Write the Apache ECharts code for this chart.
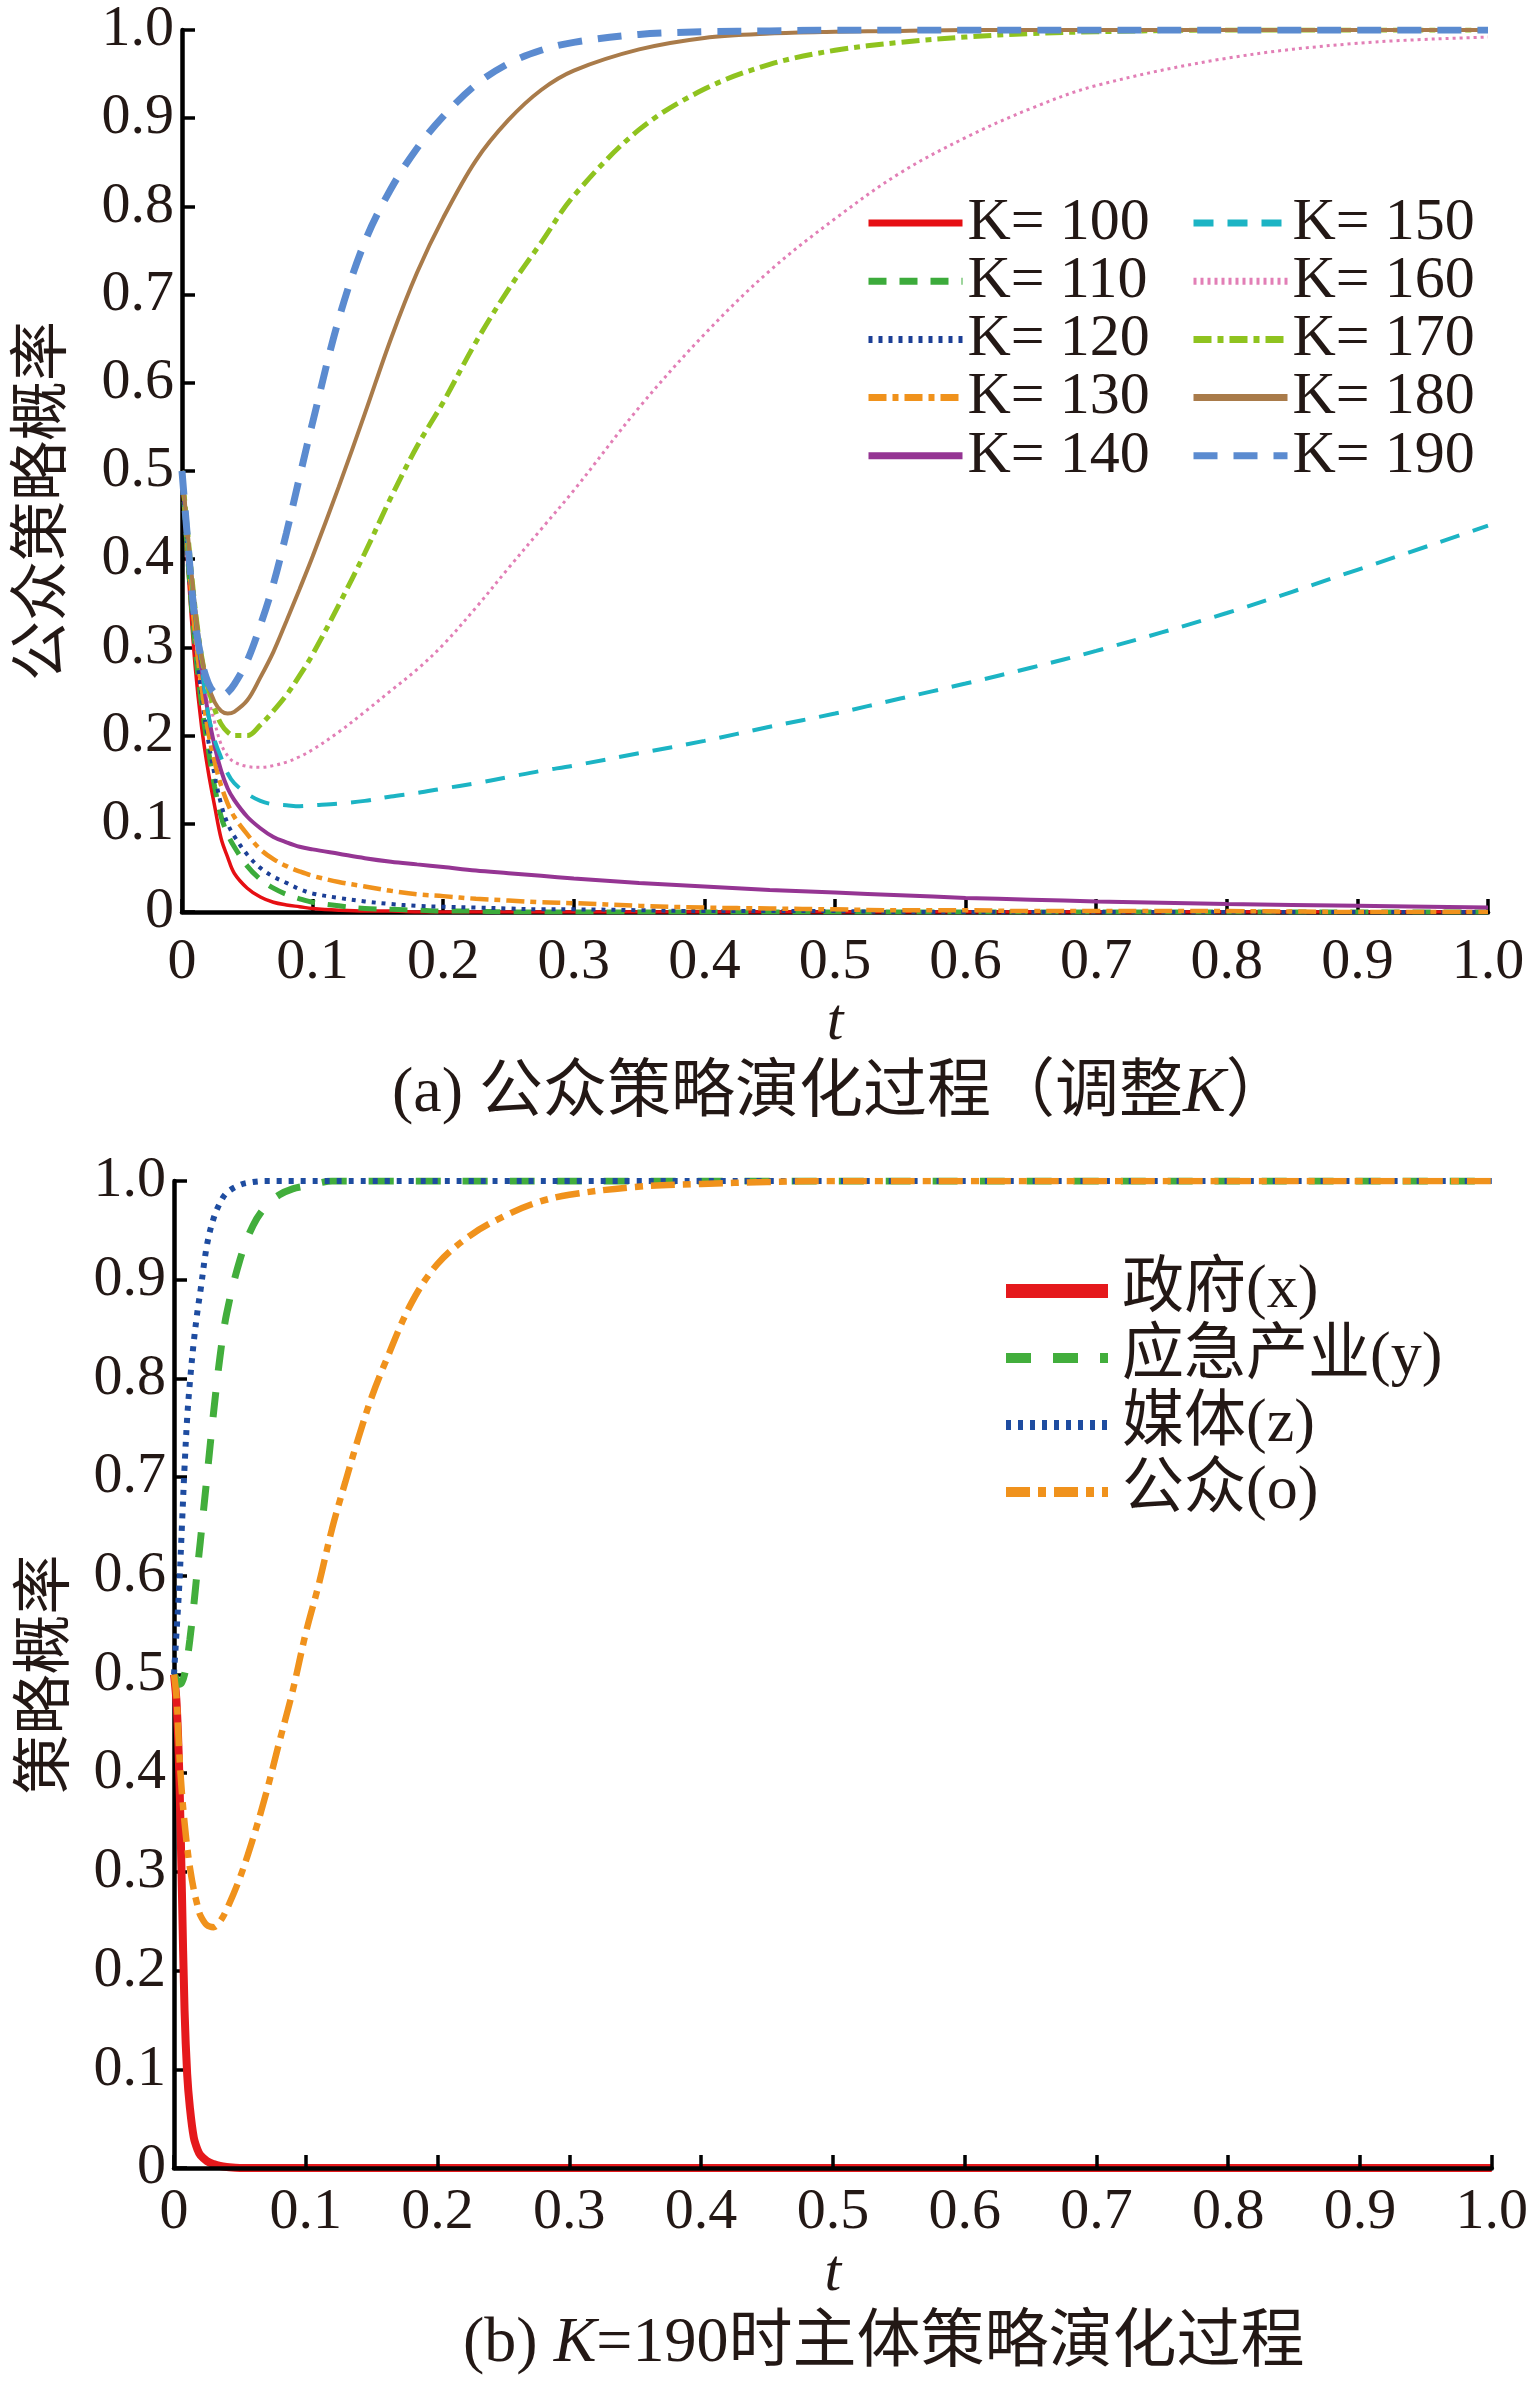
<!DOCTYPE html>
<html>
<head>
<meta charset="utf-8">
<script src="https://cdn.jsdelivr.net/npm/echarts@6/dist/echarts.min.js"></script>
<style>
  html, body { margin: 0; padding: 0; background: #fff; }
  #chart { width: 1531px; height: 2381px; }
</style>
</head>
<body>
<div id="chart"></div>
<script>
// ---- panel (a): public strategy under different K ----
const tTop = [0, 0.005, 0.01, 0.015, 0.02, 0.025, 0.03, 0.035, 0.04, 0.05, 0.06, 0.07, 0.08, 0.09, 0.1,
  0.12, 0.14, 0.16, 0.18, 0.2, 0.225, 0.25, 0.275, 0.3, 0.35, 0.4, 0.45, 0.5, 0.55, 0.6, 0.65, 0.7, 0.8, 0.9, 1.0];

const k100 = [0.5, 0.38, 0.28, 0.21, 0.16, 0.12, 0.083, 0.062, 0.044, 0.027, 0.017, 0.011, 0.008, 0.006, 0.004,
  0.002, 0.001, 0.001, 0, 0, 0, 0, 0, 0, 0, 0, 0, 0, 0, 0, 0, 0, 0, 0, 0];
const k110 = [0.5, 0.39, 0.3, 0.235, 0.185, 0.142, 0.108, 0.088, 0.074, 0.052, 0.037, 0.027, 0.02, 0.015, 0.011,
  0.007, 0.004, 0.003, 0.002, 0.001, 0.001, 0, 0, 0, 0, 0, 0, 0, 0, 0, 0, 0, 0, 0, 0];
const k120 = [0.5, 0.39, 0.31, 0.245, 0.195, 0.155, 0.122, 0.1, 0.086, 0.065, 0.05, 0.04, 0.033, 0.026, 0.021,
  0.016, 0.012, 0.009, 0.007, 0.006, 0.005, 0.004, 0.003, 0.003, 0.002, 0.001, 0.001, 0.001, 0, 0, 0, 0, 0, 0, 0];
const k130 = [0.5, 0.4, 0.315, 0.255, 0.205, 0.17, 0.143, 0.123, 0.108, 0.088, 0.071, 0.06, 0.052, 0.046, 0.041,
  0.034, 0.029, 0.024, 0.02, 0.018, 0.015, 0.013, 0.011, 0.01, 0.007, 0.005, 0.004, 0.003, 0.002, 0.002, 0.001, 0.001, 0.001, 0, 0];
const k140 = [0.5, 0.41, 0.335, 0.275, 0.225, 0.188, 0.16, 0.14, 0.127, 0.108, 0.095, 0.085, 0.079, 0.074, 0.071,
  0.066, 0.061, 0.057, 0.054, 0.051, 0.047, 0.044, 0.041, 0.038, 0.033, 0.029, 0.025, 0.022, 0.019, 0.016, 0.014, 0.012, 0.009, 0.007, 0.005];
const k150 = [0.5, 0.41, 0.34, 0.28, 0.225, 0.195, 0.175, 0.157, 0.146, 0.134, 0.126, 0.122, 0.121, 0.12, 0.121,
  0.123, 0.126, 0.131, 0.135, 0.14, 0.146, 0.153, 0.16, 0.166, 0.18, 0.194, 0.21, 0.225, 0.242, 0.259, 0.277, 0.296, 0.339, 0.388, 0.438];
const k160 = [0.5, 0.42, 0.35, 0.29, 0.245, 0.215, 0.19, 0.177, 0.17, 0.165, 0.164, 0.166, 0.17, 0.176, 0.184,
  0.204, 0.227, 0.251, 0.275, 0.303, 0.345, 0.39, 0.434, 0.478, 0.572, 0.655, 0.727, 0.786, 0.838, 0.878, 0.911, 0.937, 0.968, 0.985, 0.992];
const k170 = [0.5, 0.42, 0.345, 0.29, 0.255, 0.23, 0.213, 0.204, 0.2, 0.2, 0.212, 0.228, 0.246, 0.268, 0.292,
  0.348, 0.407, 0.47, 0.528, 0.578, 0.646, 0.706, 0.759, 0.812, 0.887, 0.933, 0.961, 0.977, 0.986, 0.992, 0.996, 0.998, 1, 1, 1];
const k180 = [0.5, 0.42, 0.345, 0.29, 0.258, 0.238, 0.228, 0.225, 0.227, 0.24, 0.266, 0.295, 0.33, 0.366, 0.403,
  0.482, 0.565, 0.65, 0.725, 0.787, 0.852, 0.898, 0.932, 0.954, 0.978, 0.991, 0.996, 0.998, 0.999, 1, 1, 1, 1, 1, 1];
const k190 = [0.5, 0.41, 0.33, 0.285, 0.26, 0.248, 0.245, 0.249, 0.258, 0.285, 0.325, 0.372, 0.43, 0.493, 0.555,
  0.672, 0.76, 0.82, 0.866, 0.902, 0.938, 0.962, 0.977, 0.986, 0.995, 0.998, 0.999, 1, 1, 1, 1, 1, 1, 1, 1];

const topNames = ['K= 100', 'K= 110', 'K= 120', 'K= 130', 'K= 140', 'K= 150', 'K= 160', 'K= 170', 'K= 180', 'K= 190'];

// ---- panel (b): all players at K=190 ----
const tBot = [0, 0.002, 0.004, 0.006, 0.008, 0.01, 0.012, 0.015, 0.018, 0.02, 0.025, 0.03, 0.035, 0.04,
  0.05, 0.06, 0.07, 0.08, 0.09, 0.1, 0.11, 0.12, 0.13, 0.14, 0.15, 0.16, 0.18, 0.2, 0.225, 0.25, 0.275, 0.3,
  0.35, 0.4, 0.45, 0.5, 0.6, 0.7, 0.8, 0.9, 1.0];

const govX = [0.5, 0.47, 0.4, 0.28, 0.16, 0.095, 0.062, 0.031, 0.018, 0.013, 0.007, 0.004, 0.002, 0.001,
  0, 0, 0, 0, 0, 0, 0, 0, 0, 0, 0, 0, 0, 0, 0, 0, 0, 0, 0, 0, 0, 0, 0, 0, 0, 0, 0];
const indY = [0.5, 0.495, 0.49, 0.492, 0.5, 0.515, 0.535, 0.57, 0.61, 0.635, 0.7, 0.765, 0.823, 0.866,
  0.92, 0.955, 0.975, 0.986, 0.992, 0.995, 0.998, 1, 1, 1, 1, 1, 1, 1, 1, 1, 1, 1, 1, 1, 1, 1, 1, 1, 1, 1, 1];
const mediaZ = [0.5, 0.545, 0.59, 0.65, 0.71, 0.76, 0.795, 0.837, 0.87, 0.888, 0.935, 0.962, 0.978, 0.988,
  0.996, 0.999, 1, 1, 1, 1, 1, 1, 1, 1, 1, 1, 1, 1, 1, 1, 1, 1, 1, 1, 1, 1, 1, 1, 1, 1, 1];
const publicO = [0.5, 0.475, 0.42, 0.38, 0.35, 0.325, 0.305, 0.282, 0.265, 0.256, 0.246, 0.244, 0.25, 0.262,
  0.294, 0.334, 0.38, 0.432, 0.483, 0.542, 0.592, 0.648, 0.695, 0.74, 0.781, 0.815, 0.876, 0.916, 0.945, 0.964,
  0.978, 0.986, 0.994, 0.997, 0.999, 1, 1, 1, 1, 1, 1];

const botNames = ['政府(x)', '应急产业(y)', '媒体(z)', '公众(o)'];

const latin = "'Liberation Serif', serif";
const mixed = "'Liberation Serif', 'Noto Sans CJK SC', serif";
const cjk = "'Noto Sans CJK SC', sans-serif";
const ink = '#231815';

function pairs(ts, vs) {
  return ts.map((t, i) => [t, vs[i]]);
}

function tickText(v) {
  return v === 0 ? '0' : v.toFixed(1);
}

const topStyles = [
  { color: '#e60f13', width: 3.5, type: 'solid' },
  { color: '#3cab3b', width: 5, type: [18, 13] },
  { color: '#1c3f96', width: 4, type: [4, 6] },
  { color: '#f0921c', width: 4.5, type: [18, 6, 6, 6] },
  { color: '#953593', width: 4, type: 'solid' },
  { color: '#1cb4c4', width: 4, type: [20, 14] },
  { color: '#e27fb6', width: 3, type: [3, 4] },
  { color: '#8fc31f', width: 5, type: [18, 6, 6, 6] },
  { color: '#a97b4a', width: 4, type: 'solid' },
  { color: '#5b8bd0', width: 7, type: [24, 16] }
];
const topValues = [k100, k110, k120, k130, k140, k150, k160, k170, k180, k190];

const botStyles = [
  { color: '#e5191c', width: 8, type: 'solid' },
  { color: '#42ae3c', width: 7, type: [25, 22] },
  { color: '#1e4ca0', width: 6, type: [5, 7] },
  { color: '#f0921c', width: 6.5, type: [24, 8, 8, 8] }
];
const botValues = [govX, indY, mediaZ, publicO];

function makeAxisX(gridIndex, labelMargin, nameGap, z) {
  return {
    type: 'value', gridIndex, min: 0, max: 1, interval: 0.1, z,
    name: 't', nameLocation: 'middle', nameGap,
    nameTextStyle: { fontFamily: latin, fontStyle: 'italic', fontSize: 60, color: ink },
    axisLine: { lineStyle: { color: '#000', width: 4.5 } },
    axisTick: { inside: true, length: 13, lineStyle: { color: '#000', width: 3.5 } },
    axisLabel: { formatter: tickText, fontFamily: latin, fontSize: 58, color: ink, margin: labelMargin },
    splitLine: { show: false }
  };
}

function makeAxisY(gridIndex, name, nameGap, namePad) {
  return {
    type: 'value', gridIndex, min: 0, max: 1, interval: 0.1,
    name, nameLocation: 'middle', nameGap, nameRotate: 90,
    nameTextStyle: { fontFamily: cjk, fontSize: 60, color: ink, padding: namePad },
    axisLine: { show: true, lineStyle: { color: '#000', width: 4.5 } },
    axisTick: { show: true, inside: true, length: 13, lineStyle: { color: '#000', width: 3.5 } },
    axisLabel: { formatter: tickText, fontFamily: latin, fontSize: 58, color: ink, margin: 8 },
    splitLine: { show: false }
  };
}

const series = [];
topNames.forEach((name, i) => {
  series.push({
    name, type: 'line', xAxisIndex: 0, yAxisIndex: 0,
    data: pairs(tTop, topValues[i]),
    showSymbol: false, symbol: 'none', smooth: 0.35,
    lineStyle: topStyles[i], itemStyle: { color: topStyles[i].color }
  });
});
botNames.forEach((name, i) => {
  series.push({
    name, type: 'line', xAxisIndex: 1, yAxisIndex: 1,
    data: pairs(tBot, botValues[i]),
    showSymbol: false, symbol: 'none', smooth: 0.35,
    lineStyle: botStyles[i], itemStyle: { color: botStyles[i].color }
  });
});

function topLegend(names, left) {
  return {
    orient: 'vertical', left, top: 193, padding: 0, itemGap: -1.8,
    itemWidth: 94, itemHeight: 14, selectedMode: false,
    itemStyle: { opacity: 0 },
    lineStyle: { width: 7 },
    textStyle: { fontFamily: latin, fontSize: 60, lineHeight: 58, color: ink },
    data: names
  };
}

const chart = echarts.init(document.getElementById('chart'), null, { renderer: 'canvas' });

chart.setOption({
  backgroundColor: '#fff',
  animation: false,
  title: [
    {
      text: '(a) 公众策略演化过程（调整{i|K}）',
      left: 392, top: 1062, padding: 0,
      textStyle: {
        fontFamily: mixed, fontSize: 64, fontWeight: 'normal', color: ink,
        rich: { i: { fontFamily: latin, fontStyle: 'italic', fontSize: 64, color: ink } }
      }
    },
    {
      text: '(b) {i|K}=190时主体策略演化过程',
      left: 463, top: 2312, padding: 0,
      textStyle: {
        fontFamily: mixed, fontSize: 64, fontWeight: 'normal', color: ink,
        rich: { i: { fontFamily: latin, fontStyle: 'italic', fontSize: 64, color: ink } }
      }
    }
  ],
  legend: [
    topLegend(topNames.slice(0, 5), 865),
    topLegend(topNames.slice(5), 1190),
    {
      orient: 'vertical', left: 999, top: 1259, padding: 0, itemGap: 3,
      itemWidth: 102, itemHeight: 16, selectedMode: false,
      itemStyle: { opacity: 0 },
      lineStyle: { width: 10 },
      textStyle: { fontFamily: mixed, fontSize: 62, lineHeight: 64, color: ink, padding: [0, 0, 0, 9] },
      data: [
        { name: botNames[0], lineStyle: { width: 14 } },
        botNames[1], botNames[2], botNames[3]
      ]
    }
  ],
  grid: [
    { left: 174, top: 30, width: 1314, height: 882 },
    { left: 174, top: 1181, width: 1328, height: 987 }
  ],
  xAxis: [makeAxisX(0, 22, 78, 0), makeAxisX(1, 16, 76, 5)],
  yAxis: [makeAxisY(0, '公众策略概率', 114, [0, 60, 0, 0]), makeAxisY(1, '策略概率', 103, 0)],
  series
});
</script>
</body>
</html>
